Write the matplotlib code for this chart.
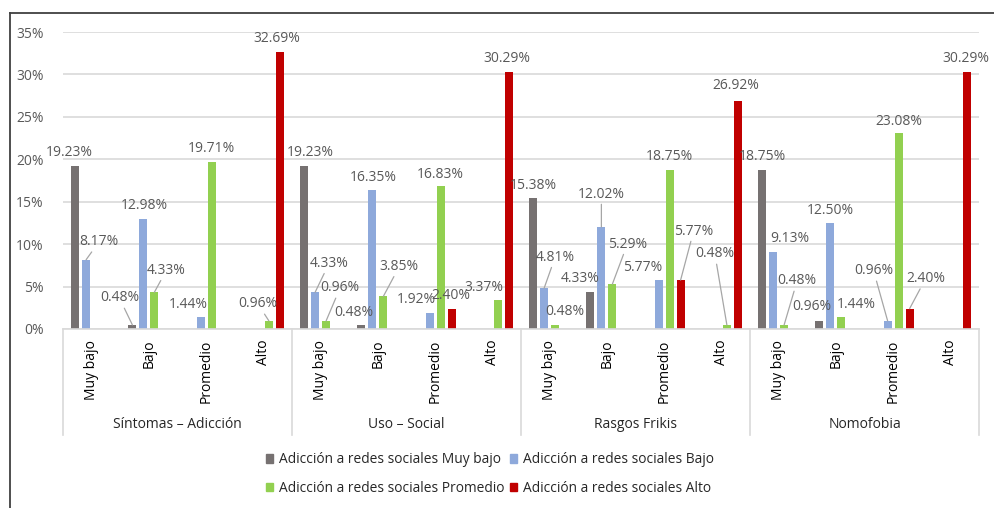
import matplotlib.pyplot as plt
from matplotlib.patches import Rectangle
from matplotlib.lines import Line2D
from matplotlib.transforms import blended_transform_factory

plt.rcParams['font.family'] = ['Open Sans', 'DejaVu Sans']

GROUPS = ["Síntomas – Adicción", "Uso – Social", "Rasgos Frikis", "Nomofobia"]
LEVELS = ["Muy bajo", "Bajo", "Promedio", "Alto"]
SERIES = ["Adicción a redes sociales Muy bajo", "Adicción a redes sociales Bajo",
          "Adicción a redes sociales Promedio", "Adicción a redes sociales Alto"]
COLORS = ["#767171", "#8EA9DB", "#92D050", "#C00000"]

# percentages, one value per (group, level) on the x axis; 0 = empty cell
MUY_BAJO = [19.23, 0.48, 0, 0, 19.23, 0.48, 0, 0, 15.38, 4.33, 0, 0, 18.75, 0.96, 0, 0]
BAJO = [8.17, 12.98, 1.44, 0, 4.33, 16.35, 1.92, 0, 4.81, 12.02, 5.77, 0, 9.13, 12.50, 0.96, 0]
PROMEDIO = [0, 4.33, 19.71, 0.96, 0.96, 3.85, 16.83, 3.37, 0.48, 5.29, 18.75, 0.48, 0.48, 1.44, 23.08, 0]
ALTO = [0, 0, 0, 32.69, 0, 0, 2.40, 30.29, 0, 0, 5.77, 26.92, 0, 0, 2.40, 30.29]
VALUES = [MUY_BAJO, BAJO, PROMEDIO, ALTO]

# data label placement (pixel offset from bar top, leader line), as in the original
LABEL_POS = [
    {0: (-6, 16, False), 1: (-13, 30, True), 4: (6, 16, False), 5: (-8, 15, False),
     8: (0, 16, False), 9: (-10, 17, False), 12: (0, 16, False), 13: (-8, 17, False)},
    {0: (13, 21, True), 1: (1, 16, False), 2: (-12, 15, False), 4: (14, 32, True),
     5: (1, 16, False), 6: (-13, 16, False), 8: (11, 34, True), 9: (0, 36, True),
     10: (-16, 16, False), 12: (17, 16, False), 13: (0, 15, False), 14: (-14, 53, True)},
    {1: (12, 25, True), 2: (0, 16, False), 3: (-11, 20, True), 4: (14, 36, True),
     5: (16, 33, True), 6: (0, 15, False), 7: (-14, 16, False), 8: (10, 16, False),
     9: (15, 43, True), 10: (0, 16, False), 11: (-12, 74, True), 12: (13, 47, True),
     13: (15, 15, False), 14: (0, 15, False)},
    {3: (-3, 16, False), 6: (-1, 16, False), 7: (-2, 16, False), 10: (13, 52, True),
     11: (-2, 18, False), 14: (16, 33, True), 15: (-1, 16, False)},
]
LABEL_SHIFT = -3  # text box centre vs. visual digit centre

W, H = 994, 508
fig = plt.figure(figsize=(W / 100, H / 100), dpi=100)
ax = fig.add_axes([63 / W, (H - 329) / H, (979 - 63) / W, (329 - 32) / H])

n = len(GROUPS) * len(LEVELS)
step, bw = 0.192, 0.14
for k, vals in enumerate(VALUES):
    xs = [i + 0.5 + (k - 1.5) * step for i in range(n)]
    ax.bar(xs, vals, width=bw, color=COLORS[k], zorder=3)
    for i, v in enumerate(vals):
        if not v:
            continue
        dx, dy, leader = LABEL_POS[k].get(i, (0, 16, False))
        ax.annotate(f"{v:.2f}%", xy=(xs[i], v), xytext=(dx, dy + LABEL_SHIFT),
                    textcoords='offset pixels', ha='center', va='center',
                    fontsize=10, color="#595959", zorder=5,
                    arrowprops=dict(arrowstyle='-', color="#A6A6A6", lw=0.9,
                                    shrinkA=0, shrinkB=0) if leader else None)

ax.set_xlim(0, n)
ax.set_ylim(0, 35)
ax.set_yticks(range(0, 36, 5))
ax.set_yticklabels([f"{t}%" for t in range(0, 36, 5)])
ax.tick_params(axis='y', length=0, pad=14, labelsize=10, labelcolor="#595959")
ax.set_xticks([])
ax.grid(axis='y', color="#D9D9D9", lw=1.2, zorder=0)
for s in ['top', 'right', 'left']:
    ax.spines[s].set_visible(False)
ax.spines['bottom'].set_color("#D9D9D9")
ax.spines['bottom'].set_linewidth(1.2)
ax.spines['bottom'].set_zorder(4)

# two-level category axis
tr = blended_transform_factory(ax.transData, ax.transAxes)
for i in range(n):
    ax.text(i + 0.5, -0.037, LEVELS[i % 4], transform=tr, rotation=90,
            ha='center', va='top', fontsize=10, color="black")
for g, name in enumerate(GROUPS):
    ax.text(g * 4 + 2, -0.32, name, transform=tr, ha='center', va='center',
            fontsize=10, color="#262626")
for g in range(len(GROUPS) + 1):
    ax.plot([g * 4, g * 4], [0, -0.357], transform=tr, color="#D9D9D9",
            lw=1.2, clip_on=False)

handles = [Rectangle((0, 0), 1, 1, color=c) for c in COLORS]
order = [0, 2, 1, 3]
fig.legend([handles[i] for i in order], [SERIES[i] for i in order],
           loc='center', bbox_to_anchor=(490 / W, (H - 474) / H), ncol=2,
           frameon=False, fontsize=9.9, handlelength=0.55, handleheight=0.55,
           handletextpad=0.45, columnspacing=0.35, labelspacing=0.95,
           labelcolor="#262626")

# outer chart frame (cropped at right and bottom)
fig.add_artist(Line2D([10 / W, 1], [1 - 13 / H, 1 - 13 / H], color="#404040", lw=1.3))
fig.add_artist(Line2D([10 / W, 10 / W], [0, 1 - 13 / H], color="#404040", lw=1.3))

fig.savefig("out.png", dpi=100)
